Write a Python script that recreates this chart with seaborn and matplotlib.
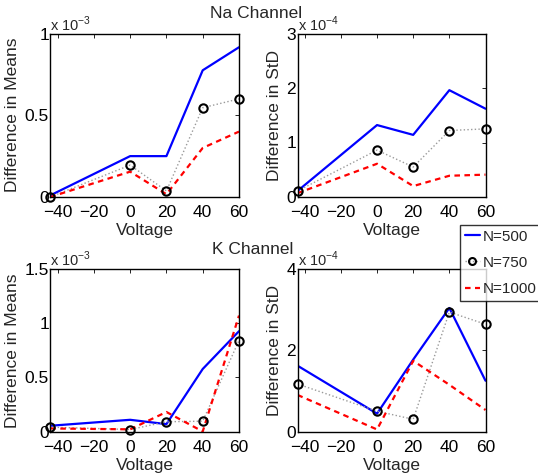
import numpy as np
import pandas as pd
import seaborn as sns
import matplotlib
matplotlib.use("Agg")
import matplotlib.pyplot as plt
from matplotlib.lines import Line2D

sns.set_theme(style="white")
plt.rcParams['font.family'] = ['Liberation Sans', 'DejaVu Sans']
plt.rcParams['axes.unicode_minus'] = True
plt.rcParams['mathtext.fontset'] = 'custom'
plt.rcParams['mathtext.rm'] = 'Liberation Sans'

voltage = [-44, 0, 20, 40, 60]
xticks = [-40, -20, 0, 20, 40, 60]

# Na channel, difference in means (x 1e-3)
na_mean_500 = [0.01, 0.25, 0.25, 0.775, 0.916]
na_mean_750 = [0.0, 0.195, 0.037, 0.546, 0.60]
na_mean_1000 = [0.0, 0.155, 0.017, 0.30, 0.40]
# Na channel, difference in StD (x 1e-4)
na_std_500 = [0.11, 1.32, 1.14, 1.96, 1.62]
na_std_750 = [0.11, 0.86, 0.55, 1.22, 1.25]
na_std_1000 = [0.07, 0.61, 0.20, 0.39, 0.41]
# K channel, difference in means (x 1e-3)
k_mean_500 = [0.053, 0.108, 0.068, 0.577, 0.926]
k_mean_750 = [0.04, 0.018, 0.09, 0.095, 0.84]
k_mean_1000 = [0.028, 0.02, 0.18, 0.0, 1.07]
# K channel, difference in StD (x 1e-4)
k_std_500 = [1.62, 0.44, 1.77, 3.04, 1.25]
k_std_750 = [1.17, 0.50, 0.30, 2.94, 2.64]
k_std_1000 = [0.90, 0.05, 1.74, 1.15, 0.53]

labels = ["N=500", "N=750", "N=1000"]

W, H = 538, 476
fig = plt.figure(figsize=(W / 100, H / 100), dpi=100)

def rect(l, t, r, b):
    return [l / W, 1 - b / H, (r - l) / W, (b - t) / H]

axes_spec = [
    (rect(50.3, 33.5, 239, 197), (na_mean_500, na_mean_750, na_mean_1000), 1.0, [0, 0.5, 1], ["0", "0.5", "1"], "Difference in Means", "x 10$^{-3}$"),
    (rect(297.5, 33.5, 485.5, 197), (na_std_500, na_std_750, na_std_1000), 3.0, [0, 1, 2, 3], ["0", "1", "2", "3"], "Difference in StD", "x 10$^{-4}$"),
    (rect(50.3, 269, 239, 431.5), (k_mean_500, k_mean_750, k_mean_1000), 1.5, [0, 0.5, 1, 1.5], ["0", "0.5", "1", "1.5"], "Difference in Means", "x 10$^{-3}$"),
    (rect(297.5, 269, 485.5, 431.5), (k_std_500, k_std_750, k_std_1000), 4.0, [0, 2, 4], ["0", "2", "4"], "Difference in StD", "x 10$^{-4}$"),
]

fs = 12.5
for r, (s500, s750, s1000), ymax, yt, ytl, ylab, off in axes_spec:
    ax = fig.add_axes(r)
    sns.lineplot(x=voltage, y=s500, ax=ax, color="#0000ff", linewidth=1.6, sort=False, estimator=None)
    sns.lineplot(x=voltage, y=s750, ax=ax, color="#9a9a9a", linewidth=1.0, linestyle=":",
                 sort=False, estimator=None)
    ax.plot(voltage, s750, linestyle="none", marker="o", markersize=6, markerfacecolor="none",
            markeredgecolor="black", markeredgewidth=1.5, clip_on=False, zorder=5)
    sns.lineplot(x=voltage, y=s1000, ax=ax, color="#ff0000", linewidth=1.6, linestyle=(0, (2.5, 2)),
                 sort=False, estimator=None)
    ax.set_xlim(-44, 60)
    ax.set_ylim(0, ymax)
    ax.set_xticks(xticks)
    ax.set_xticklabels([str(v).replace("-", "\u2212") for v in xticks], fontsize=fs)
    ax.set_yticks(yt)
    ax.set_yticklabels(ytl, fontsize=fs)
    ax.tick_params(direction="in", top=True, right=True, length=3, width=0.6,
                   colors="black", labelcolor="black")
    ax.tick_params(axis="x", pad=6)
    ax.tick_params(axis="y", pad=1)
    for sp in ax.spines.values():
        sp.set_color("black")
        sp.set_linewidth(1.0)
    ax.set_xlabel("Voltage", fontsize=fs, labelpad=2)
    ax.set_ylabel(ylab, fontsize=fs, labelpad=3)
    ax.text(0.0, 1.0, off, transform=ax.transAxes, fontsize=10.5, ha="left", va="bottom")

fig.text(256 / W, 1 - 14 / H, "Na Channel", fontsize=fs, ha="center", va="center")
fig.text(253 / W, 1 - 249 / H, "K Channel", fontsize=fs, ha="center", va="center")

handles = [
    Line2D([], [], color="#0000ff", linewidth=1.6),
    Line2D([], [], color="#9a9a9a", linewidth=1.0, linestyle=":", marker="o", markersize=5,
           markerfacecolor="none", markeredgecolor="black", markeredgewidth=1.5),
    Line2D([], [], color="#ff0000", linewidth=1.6, linestyle=(0, (2.5, 2))),
]
leg = fig.legend(handles, labels, loc="upper left", bbox_to_anchor=(460 / W, 1 - 225 / H),
                 fontsize=11, frameon=True, fancybox=False, handlelength=1.0, handletextpad=0.2,
                 borderpad=0.3, labelspacing=0.8, borderaxespad=0)
leg.get_frame().set_edgecolor("black")
leg.get_frame().set_linewidth(1.0)

fig.savefig("out.png", dpi=100)
